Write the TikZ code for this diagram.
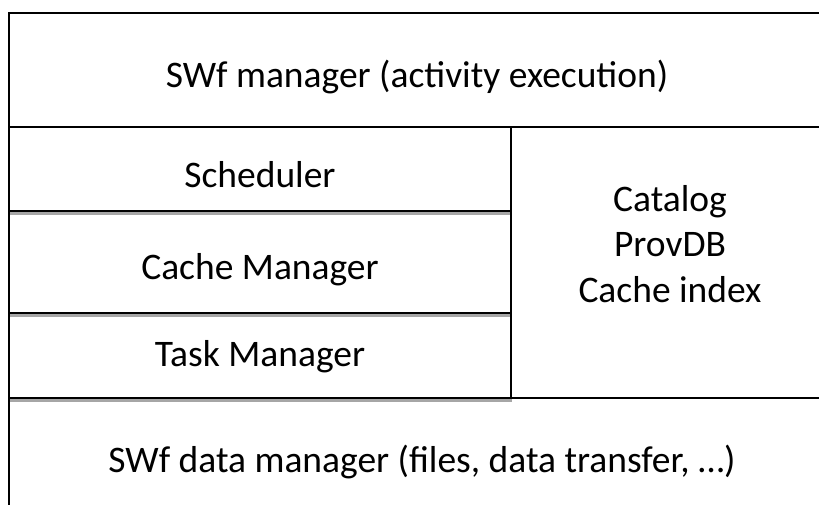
\documentclass[tikz,border=0pt]{standalone}
\usepackage{fontspec}
\setmainfont{Carlito}
\usetikzlibrary{positioning}

\tikzset{
  layer/.style={draw, line width=2pt},
  shadowline/.style={draw=gray!70, line width=3pt},
  label/.style={inner sep=0pt, font=\fontsize{37.5}{45.5}\selectfont}
}

\begin{document}
\begin{tikzpicture}[x=1pt, y=-1pt]
    \useasboundingbox (0,0) rectangle (819,504);
    \clip (0,0) rectangle (819,504);
    % shadows under the left stack
    \draw [shadowline] (10,213.5) -- (512,213.5);
    \draw [shadowline] (10,315.5) -- (512,315.5);
    \draw [shadowline] (10,400.5) -- (512,400.5);
    % layers
    \draw [layer] (9,13) rectangle (840,127);
    \draw [layer] (9,127) rectangle (511,211);
    \draw [layer] (9,211) rectangle (511,313);
    \draw [layer] (9,313) rectangle (511,398);
    \draw [layer] (511,127) rectangle (840,398);
    \draw [layer] (9,398) rectangle (840,520);
    % texts
    \node [label, anchor=base] (swfmgr) at (417,87) {SWf manager (activity execution)};
    \node [label, anchor=base] (sched) at (260,187) {Scheduler};
    \node [label, anchor=base] (cachemgr) at (260,279) {Cache Manager};
    \node [label, anchor=base] (taskmgr) at (260,366) {Task Manager};
    \node [label, align=center] (catalog) at (670,244) {Catalog\\ProvDB\\Cache index};
    \node [label, anchor=base] (datamgr) at (422,472) {SWf data manager (files, data transfer, …)};
\end{tikzpicture}
\end{document}
